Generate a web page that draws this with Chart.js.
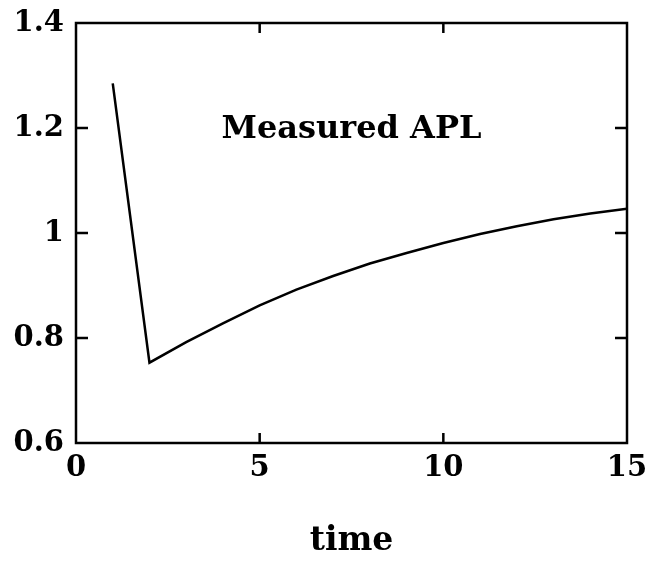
<!DOCTYPE html>
<html>
<head>
<meta charset="utf-8">
<script src="https://cdn.jsdelivr.net/npm/chart.js@4"></script>
<style>
  html, body { margin: 0; padding: 0; background: #fff; }
  #box { width: 656px; height: 565px; }
</style>
</head>
<body>
<div id="box"><canvas id="myChart"></canvas></div>
<script>
/* data */
const times = [1, 2, 3, 4, 5, 6, 7, 8, 9, 10, 11, 12, 13, 14, 15];
const aplValues = [1.285, 0.753, 0.792, 0.828, 0.862, 0.892, 0.918, 0.942, 0.962, 0.981, 0.998, 1.013, 1.026, 1.037, 1.046];
const xTicks = [0, 5, 10, 15];
const yTicks = [0.6, 0.8, 1, 1.2, 1.4];
const labelText = 'Measured APL';

const serif = '"DejaVu Serif", serif';

// box, inward ticks and the text label
const framePlugin = {
    id: 'frame',
    afterDatasetsDraw(chart) {
        const ctx = chart.ctx;
        const a = chart.chartArea;
        const xs = chart.scales.x;
        const ys = chart.scales.y;
        ctx.save();
        ctx.strokeStyle = '#000';
        ctx.lineWidth = 2.5;
        ctx.strokeRect(a.left, a.top, a.right - a.left, a.bottom - a.top);
        ctx.beginPath();
        xTicks.slice(1, -1).forEach(v => {
            const px = xs.getPixelForValue(v);
            ctx.moveTo(px, a.bottom); ctx.lineTo(px, a.bottom - 10);
            ctx.moveTo(px, a.top); ctx.lineTo(px, a.top + 10);
        });
        yTicks.slice(1, -1).forEach(v => {
            const py = ys.getPixelForValue(v);
            ctx.moveTo(a.left, py); ctx.lineTo(a.left + 12, py);
            ctx.moveTo(a.right, py); ctx.lineTo(a.right - 12, py);
        });
        ctx.stroke();
        ctx.fillStyle = '#000';
        ctx.font = 'bold 32px ' + serif;
        ctx.textAlign = 'center';
        ctx.textBaseline = 'middle';
        ctx.fillText(labelText, xs.getPixelForValue(7.5), ys.getPixelForValue(1.196));
        ctx.restore();
    }
};

const config = {
    type: 'line',
    data: {
        labels: times,
        datasets: [{
            label: labelText,
            data: times.map((t, i) => ({ x: t, y: aplValues[i] })),
            borderColor: '#000',
            borderWidth: 2.5,
            pointRadius: 0,
            tension: 0,
            fill: false
        }]
    },
    options: {
        responsive: true,
        maintainAspectRatio: false,
        animation: false,
        layout: { padding: { top: 23, right: 29, left: 0, bottom: 0 } },
        plugins: {
            legend: { display: false },
            tooltip: { enabled: false }
        },
        scales: {
            x: {
                type: 'linear',
                min: 0,
                max: 15,
                afterBuildTicks: s => { s.ticks = xTicks.map(v => ({ value: v })); },
                afterFit: s => { s.height = 122; s.paddingLeft = 0; s.paddingRight = 0; },
                grid: { display: false, drawTicks: false },
                border: { display: false },
                ticks: {
                    color: '#000',
                    padding: 8,
                    maxRotation: 0,
                    font: { family: serif, size: 29, weight: 'bold' }
                },
                title: {
                    display: true,
                    text: 'time',
                    color: '#000',
                    padding: { top: 28 },
                    font: { family: serif, size: 33, weight: 'bold' }
                }
            },
            y: {
                type: 'linear',
                min: 0.6,
                max: 1.4,
                afterBuildTicks: s => { s.ticks = yTicks.map(v => ({ value: v })); },
                afterFit: s => { s.width = 76; s.paddingTop = 0; s.paddingBottom = 0; },
                grid: { display: false, drawTicks: false },
                border: { display: false },
                ticks: {
                    color: '#000',
                    padding: 12,
                    callback: v => String(v),
                    font: { family: serif, size: 29, weight: 'bold' }
                }
            }
        }
    },
    plugins: [framePlugin]
};

const myChart = new Chart(document.getElementById('myChart'), config);
</script>
</body>
</html>
